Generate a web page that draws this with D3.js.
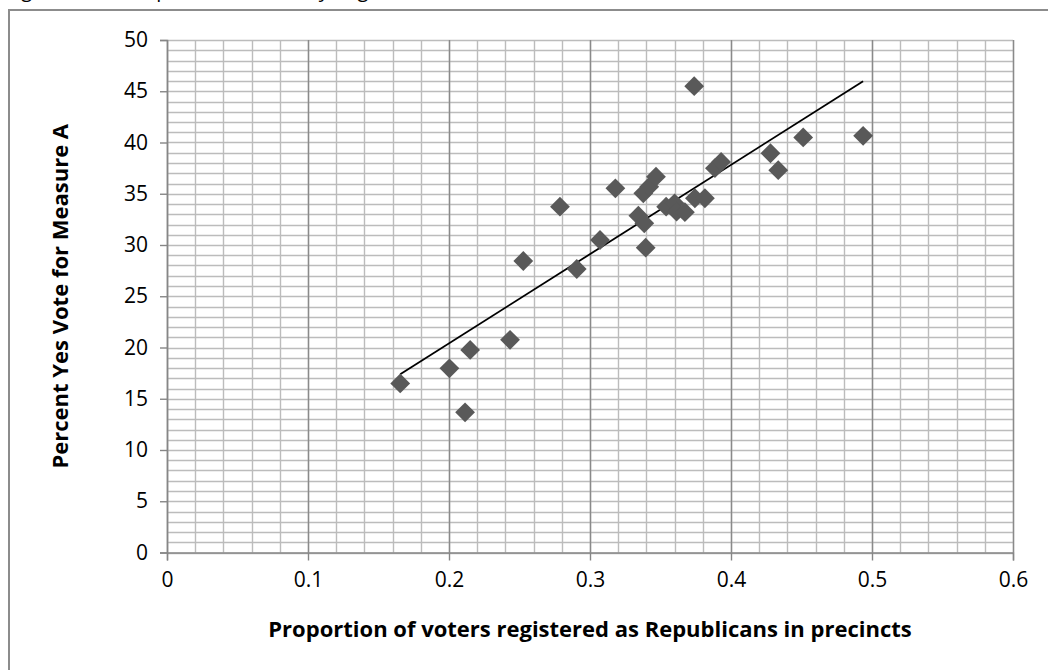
<!DOCTYPE html>
<html><head><meta charset="utf-8">
<script src="https://cdn.jsdelivr.net/npm/d3@7"></script>
<style>body{margin:0;background:#fff} svg{display:block}</style>
</head><body>
<svg id="c" width="1048" height="670"></svg>
<script>
// ---- data ----
const proportionRepublican = [0.1654, 0.2003, 0.2150, 0.2114, 0.2433, 0.2527, 0.2787, 0.2906, 0.3071, 0.3180,
  0.3343, 0.3385, 0.3395, 0.3378, 0.3420, 0.3468, 0.3540, 0.3600, 0.3614, 0.3673,
  0.3744, 0.3815, 0.3739, 0.3886, 0.3930, 0.4280, 0.4335, 0.4512, 0.4937];
const percentYes = [16.5, 17.97, 19.76, 13.68, 20.75, 28.44, 33.74, 27.66, 30.49, 35.53,
  32.86, 32.12, 29.74, 35.04, 35.69, 36.67, 33.74, 34.07, 33.25, 33.2,
  34.56, 34.56, 45.5, 37.5, 38.1, 38.95, 37.3, 40.5, 40.65];
const trendSlope = 87.1;
const trendIntercept = 2.98;
const xTickValues = [0, 0.1, 0.2, 0.3, 0.4, 0.5, 0.6];
const yTickValues = [0, 5, 10, 15, 20, 25, 30, 35, 40, 45, 50];
const xTitle = "Proportion of voters registered as Republicans in precincts";
const yTitle = "Percent Yes Vote for Measure A";
const figureCaption = "Figure 1: Scatterplot of Yes Vote by Registration";

const FONT = "'Open Sans', sans-serif";
const svg = d3.select("#c");
const L = 167, R = 1013, T = 40, B = 552.5;
const x = d3.scaleLinear().domain([0, 0.6]).range([L, R]);
const y = d3.scaleLinear().domain([0, 50]).range([B, T]);

// caption clipped at top
svg.append("text").attr("x", 6).attr("y", -3)
  .attr("font-family", FONT).attr("font-size", 20).text(figureCaption);

// outer border
svg.append("rect").attr("x", 9).attr("y", 10).attr("width", 1100).attr("height", 700)
  .attr("fill", "none").attr("stroke", "#8c8c8c").attr("stroke-width", 2);

// minor grid
const g = svg.append("g");
const xMinor = d3.range(0, 0.6001, 0.02);
const yMinor = d3.range(0, 50.001, 1);
g.selectAll("line.ym").data(yMinor).join("line")
  .attr("x1", L).attr("x2", R)
  .attr("y1", d => Math.round(y(d)) + 0.5).attr("y2", d => Math.round(y(d)) + 0.5)
  .attr("stroke", "#bcbcbc").attr("stroke-width", 1.4);
g.selectAll("line.xm").data(xMinor).join("line")
  .attr("y1", T).attr("y2", B)
  .attr("x1", d => Math.round(x(d)) + 0.5).attr("x2", d => Math.round(x(d)) + 0.5)
  .attr("stroke", "#bcbcbc").attr("stroke-width", 1.4);
// major vertical grid
g.selectAll("line.xM").data(xTickValues).join("line")
  .attr("y1", T).attr("y2", B)
  .attr("x1", d => Math.round(x(d)) + 0.5).attr("x2", d => Math.round(x(d)) + 0.5)
  .attr("stroke", "#8a8a8a").attr("stroke-width", 1.4);

// axes
const xAxis = d3.axisBottom(x).tickValues(xTickValues).tickSize(8).tickPadding(12)
  .tickFormat(d => d === 0 ? "0" : d3.format(".1f")(d));
const yAxis = d3.axisLeft(y).tickValues(yTickValues).tickSize(7).tickPadding(12)
  .tickFormat(d3.format("d"));
const gx = svg.append("g").attr("transform", `translate(0,${B})`).call(xAxis);
const gy = svg.append("g").attr("transform", `translate(${L},0)`).call(yAxis);
[gx, gy].forEach(a => {
  a.select(".domain").attr("stroke", "#868686").attr("stroke-width", 1.4);
  a.selectAll(".tick line").attr("stroke", "#868686").attr("stroke-width", 1.4);
  a.selectAll("text").attr("font-family", FONT).attr("font-size", 21).attr("fill", "#000");
});

// trend line
const xs = d3.extent(proportionRepublican);
svg.append("line")
  .attr("x1", x(xs[0])).attr("y1", y(trendIntercept + trendSlope * xs[0]))
  .attr("x2", x(xs[1])).attr("y2", y(trendIntercept + trendSlope * xs[1]))
  .attr("stroke", "#000").attr("stroke-width", 1.8);

// points
const pts = proportionRepublican.map((v, i) => [v, percentYes[i]]);
const sym = d3.symbol().type(d3.symbolSquare).size(196);
svg.append("g").selectAll("path").data(pts).join("path")
  .attr("d", sym)
  .attr("transform", d => `translate(${x(d[0])},${y(d[1])}) rotate(45)`)
  .attr("fill", "#595959");

// axis titles
svg.append("text").attr("x", (L + R) / 2).attr("y", 637).attr("text-anchor", "middle")
  .attr("font-family", FONT).attr("font-weight", "bold").attr("font-size", 22).text(xTitle);
svg.append("text").attr("transform", `translate(68,${(T + B) / 2}) rotate(-90)`)
  .attr("text-anchor", "middle")
  .attr("font-family", FONT).attr("font-weight", "bold").attr("font-size", 22).text(yTitle);
</script>
</body></html>
